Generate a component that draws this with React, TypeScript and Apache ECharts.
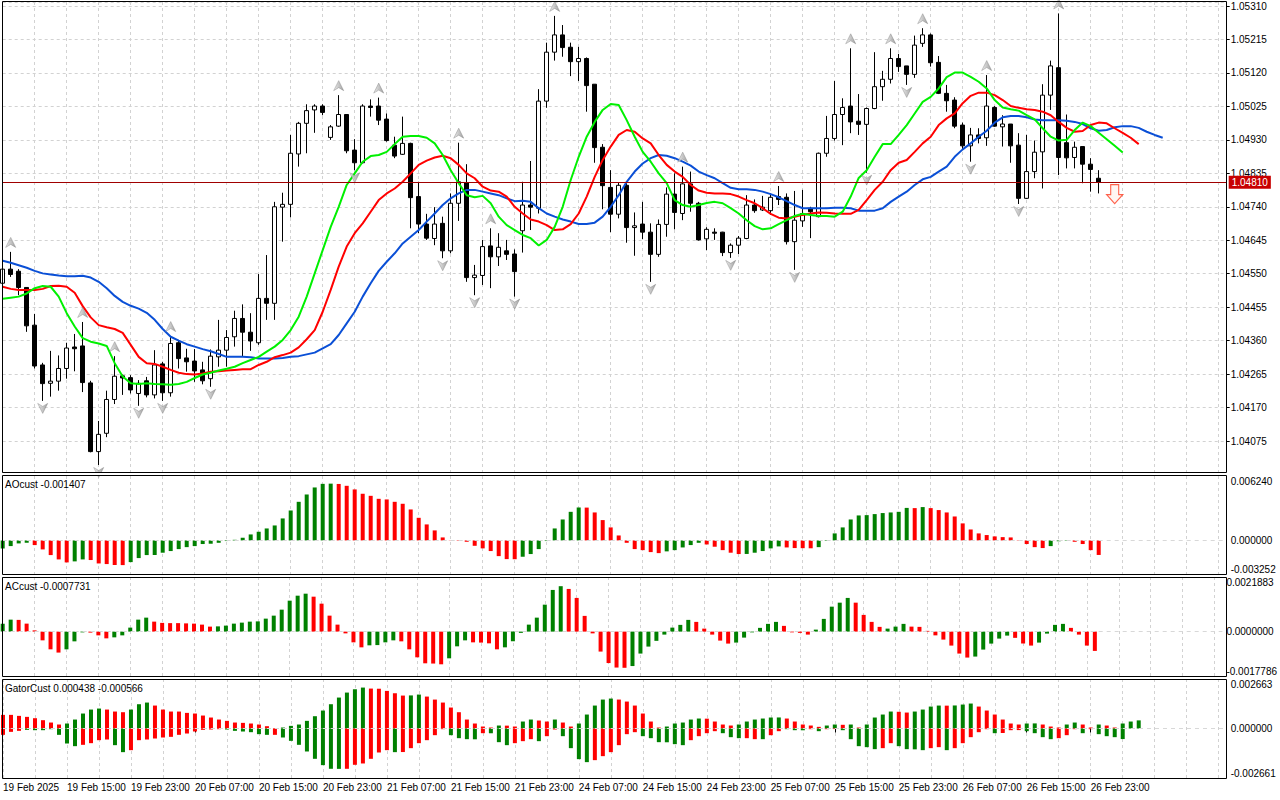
import React, { useEffect, useRef } from 'react';
import * as echarts from 'echarts';

// ------------------------------------------------------------------ data
const X_TICK_LABELS = [
  '19 Feb 2025', '19 Feb 15:00', '19 Feb 23:00', '20 Feb 07:00', '20 Feb 15:00', '20 Feb 23:00',
  '21 Feb 07:00', '21 Feb 15:00', '21 Feb 23:00', '24 Feb 07:00', '24 Feb 15:00', '24 Feb 23:00',
  '25 Feb 07:00', '25 Feb 15:00', '25 Feb 23:00', '26 Feb 07:00', '26 Feb 15:00', '26 Feb 23:00',
];
const BARS_PER_LABEL = 8;
const BARS_PER_GRIDLINE = 4;
const SLOT_COUNT = 154;

const OPEN = [
  1.04523, 1.04563, 1.04557, 1.04511, 1.04404, 1.04291, 1.04239, 1.04245, 1.04281, 1.04342,
  1.04345, 1.04240, 1.04045, 1.04097, 1.04193, 1.04260, 1.04255, 1.04210, 1.04246, 1.04206,
  1.04294, 1.04212, 1.04354, 1.04311, 1.04302, 1.04277, 1.04252, 1.04314, 1.04333, 1.04371,
  1.04423, 1.04384, 1.04354, 1.04480, 1.04466, 1.04739, 1.04747, 1.04890, 1.04977, 1.05015,
  1.05026, 1.04937, 1.04969, 1.05002, 1.04901, 1.04865, 1.05026, 1.05026, 1.04989, 1.04915,
  1.04889, 1.04920, 1.04769, 1.04691, 1.04650, 1.04693, 1.04615, 1.04750, 1.04808, 1.04539,
  1.04545, 1.04629, 1.04598, 1.04615, 1.04606, 1.04672, 1.04745, 1.04736, 1.05040, 1.05179,
  1.05228, 1.05193, 1.05152, 1.05161, 1.05088, 1.04909, 1.04795, 1.04719, 1.04801, 1.04681,
  1.04691, 1.04668, 1.04605, 1.04690, 1.04776, 1.04721, 1.04805, 1.04750, 1.04649, 1.04668,
  1.04668, 1.04610, 1.04631, 1.04650, 1.04745, 1.04731, 1.04729, 1.04769, 1.04767, 1.04641,
  1.04700, 1.04736, 1.04712, 1.04892, 1.04934, 1.05002, 1.05026, 1.04983, 1.04974, 1.05019,
  1.05081, 1.05102, 1.05161, 1.05140, 1.05116, 1.05204, 1.05228, 1.05150, 1.05062, 1.05043,
  1.04972, 1.04913, 1.04944, 1.04936, 1.05022, 1.04967, 1.04975, 1.04915, 1.04764, 1.04840,
  1.04896, 1.05057, 1.05135, 1.04922, 1.04880, 1.04911, 1.04861, 1.04821,
];
const HIGH = [
  1.04566, 1.04612, 1.04563, 1.04512, 1.04436, 1.04297, 1.04331, 1.04318, 1.04354, 1.04379,
  1.04413, 1.04246, 1.04132, 1.04218, 1.04316, 1.04264, 1.04262, 1.04248, 1.04257, 1.04333,
  1.04300, 1.04373, 1.04362, 1.04337, 1.04336, 1.04300, 1.04335, 1.04419, 1.04390, 1.04445,
  1.04463, 1.04438, 1.04549, 1.04603, 1.04754, 1.04780, 1.04944, 1.04981, 1.05031, 1.05031,
  1.05031, 1.04972, 1.05057, 1.05003, 1.04932, 1.05031, 1.05045, 1.05050, 1.05005, 1.04939,
  1.04996, 1.04922, 1.04811, 1.04720, 1.04739, 1.04712, 1.04778, 1.04922, 1.04861, 1.04575,
  1.04646, 1.04679, 1.04665, 1.04646, 1.04619, 1.04811, 1.04870, 1.05074, 1.05206, 1.05282,
  1.05256, 1.05206, 1.05194, 1.05164, 1.05088, 1.04918, 1.04844, 1.04808, 1.04808, 1.04724,
  1.04754, 1.04693, 1.04704, 1.04795, 1.04835, 1.04854, 1.04840, 1.04754, 1.04682, 1.04679,
  1.04669, 1.04636, 1.04657, 1.04773, 1.04761, 1.04771, 1.04778, 1.04799, 1.04778, 1.04785,
  1.04788, 1.04740, 1.04894, 1.04998, 1.05097, 1.05048, 1.05190, 1.05060, 1.05022, 1.05179,
  1.05126, 1.05190, 1.05174, 1.05140, 1.05226, 1.05247, 1.05232, 1.05168, 1.05086, 1.05051,
  1.04979, 1.04964, 1.04963, 1.05114, 1.05026, 1.05000, 1.04975, 1.04949, 1.04944, 1.04928,
  1.05088, 1.05155, 1.05289, 1.05002, 1.04925, 1.04911, 1.04878, 1.04844,
];
const LOW = [
  1.04518, 1.04541, 1.04489, 1.04385, 1.04281, 1.04189, 1.04201, 1.04218, 1.04252, 1.04273,
  1.04214, 1.04043, 1.04007, 1.04086, 1.04180, 1.04206, 1.04210, 1.04175, 1.04199, 1.04196,
  1.04189, 1.04201, 1.04281, 1.04272, 1.04243, 1.04236, 1.04229, 1.04286, 1.04286, 1.04343,
  1.04314, 1.04331, 1.04348, 1.04419, 1.04419, 1.04641, 1.04710, 1.04854, 1.04892, 1.04950,
  1.05000, 1.04930, 1.04967, 1.04892, 1.04844, 1.04863, 1.04996, 1.04972, 1.04925, 1.04878,
  1.04887, 1.04679, 1.04665, 1.04646, 1.04631, 1.04594, 1.04608, 1.04700, 1.04527, 1.04489,
  1.04518, 1.04509, 1.04572, 1.04589, 1.04485, 1.04610, 1.04674, 1.04721, 1.05021, 1.05155,
  1.05166, 1.05111, 1.05097, 1.05010, 1.04865, 1.04733, 1.04668, 1.04707, 1.04638, 1.04601,
  1.04648, 1.04527, 1.04598, 1.04655, 1.04676, 1.04702, 1.04726, 1.04644, 1.04617, 1.04646,
  1.04600, 1.04595, 1.04606, 1.04648, 1.04723, 1.04728, 1.04717, 1.04745, 1.04633, 1.04561,
  1.04683, 1.04651, 1.04710, 1.04882, 1.04928, 1.04915, 1.04949, 1.04944, 1.04837, 1.05017,
  1.05041, 1.05090, 1.05123, 1.05086, 1.05106, 1.05194, 1.05138, 1.05060, 1.05010, 1.04963,
  1.04901, 1.04868, 1.04920, 1.04913, 1.04967, 1.04911, 1.04865, 1.04748, 1.04762, 1.04821,
  1.04792, 1.05015, 1.04830, 1.04849, 1.04849, 1.04807, 1.04783, 1.04778,
];
const CLOSE = [
  1.04563, 1.04548, 1.04511, 1.04402, 1.04288, 1.04238, 1.04245, 1.04281, 1.04339, 1.04337,
  1.04241, 1.04045, 1.04094, 1.04193, 1.04259, 1.04254, 1.04220, 1.04239, 1.04206, 1.04291,
  1.04212, 1.04352, 1.04309, 1.04300, 1.04274, 1.04246, 1.04316, 1.04333, 1.04369, 1.04423,
  1.04384, 1.04359, 1.04480, 1.04466, 1.04740, 1.04747, 1.04892, 1.04977, 1.05013, 1.05026,
  1.05008, 1.04967, 1.05002, 1.04899, 1.04865, 1.05026, 1.05022, 1.04986, 1.04928, 1.04884,
  1.04920, 1.04766, 1.04691, 1.04651, 1.04691, 1.04615, 1.04750, 1.04811, 1.04539, 1.04546,
  1.04627, 1.04598, 1.04625, 1.04605, 1.04556, 1.04745, 1.04739, 1.05040, 1.05179, 1.05228,
  1.05192, 1.05152, 1.05161, 1.05084, 1.04908, 1.04800, 1.04719, 1.04801, 1.04681, 1.04686,
  1.04668, 1.04605, 1.04690, 1.04776, 1.04724, 1.04805, 1.04750, 1.04646, 1.04676, 1.04665,
  1.04610, 1.04631, 1.04651, 1.04745, 1.04729, 1.04739, 1.04767, 1.04761, 1.04641, 1.04702,
  1.04721, 1.04726, 1.04892, 1.04934, 1.05002, 1.05022, 1.04981, 1.04974, 1.05019, 1.05081,
  1.05102, 1.05161, 1.05138, 1.05116, 1.05199, 1.05228, 1.05149, 1.05062, 1.05041, 1.04969,
  1.04913, 1.04944, 1.04934, 1.05026, 1.04969, 1.04975, 1.04913, 1.04764, 1.04840, 1.04895,
  1.05057, 1.05140, 1.04880, 1.04879, 1.04909, 1.04861, 1.04846, 1.04810,
];

// Alligator lines (drawn shifted forward, so they run past the last bar)
const LIPS = [
  1.04479, 1.04482, 1.04485, 1.04494, 1.04509, 1.04515, 1.04513, 1.04485, 1.04438, 1.04400,
  1.04367, 1.04357, 1.04352, 1.04345, 1.04296, 1.04258, 1.04239, 1.04237, 1.04239, 1.04237,
  1.04236, 1.04235, 1.04237, 1.04243, 1.04254, 1.04264, 1.04269, 1.04275, 1.04280, 1.04286,
  1.04296, 1.04305, 1.04314, 1.04329, 1.04343, 1.04362, 1.04390, 1.04428, 1.04485, 1.04551,
  1.04617, 1.04683, 1.04740, 1.04802, 1.04835, 1.04868, 1.04884, 1.04887, 1.04896, 1.04918,
  1.04939, 1.04941, 1.04941, 1.04936, 1.04920, 1.04887, 1.04844, 1.04807, 1.04773, 1.04767,
  1.04771, 1.04750, 1.04712, 1.04688, 1.04674, 1.04660, 1.04651, 1.04630, 1.04646, 1.04683,
  1.04740, 1.04816, 1.04882, 1.04939, 1.04981, 1.05015, 1.05032, 1.05029, 1.04986, 1.04939,
  1.04896, 1.04868, 1.04835, 1.04807, 1.04759, 1.04745, 1.04740, 1.04745, 1.04751, 1.04754,
  1.04750, 1.04736, 1.04721, 1.04702, 1.04685, 1.04676, 1.04679, 1.04691, 1.04702, 1.04714,
  1.04720, 1.04717, 1.04714, 1.04714, 1.04712, 1.04726, 1.04769, 1.04822, 1.04844, 1.04882,
  1.04918, 1.04918, 1.04944, 1.04972, 1.05005, 1.05038, 1.05052, 1.05076, 1.05108, 1.05121,
  1.05121, 1.05109, 1.05095, 1.05076, 1.05043, 1.05022, 1.05017, 1.05013, 1.05000, 1.04988,
  1.04963, 1.04939, 1.04928, 1.04930, 1.04958, 1.04979, 1.04969, 1.04950, 1.04932, 1.04913,
  1.04894,
];
const TEETH = [
  1.04513, 1.04507, 1.04504, 1.04504, 1.04504, 1.04507, 1.04515, 1.04516, 1.04513, 1.04496,
  1.04458, 1.04426, 1.04404, 1.04398, 1.04393, 1.04382, 1.04348, 1.04314, 1.04296, 1.04294,
  1.04286, 1.04277, 1.04269, 1.04265, 1.04264, 1.04267, 1.04272, 1.04273, 1.04275, 1.04277,
  1.04279, 1.04279, 1.04291, 1.04300, 1.04313, 1.04319, 1.04326, 1.04341, 1.04364, 1.04390,
  1.04442, 1.04504, 1.04570, 1.04627, 1.04665, 1.04693, 1.04726, 1.04759, 1.04778, 1.04792,
  1.04811, 1.04835, 1.04859, 1.04871, 1.04880, 1.04885, 1.04878, 1.04859, 1.04835, 1.04821,
  1.04797, 1.04786, 1.04783, 1.04769, 1.04740, 1.04721, 1.04704, 1.04698, 1.04688, 1.04674,
  1.04676, 1.04691, 1.04721, 1.04769, 1.04825, 1.04873, 1.04911, 1.04944, 1.04958, 1.04953,
  1.04934, 1.04920, 1.04887, 1.04859, 1.04840, 1.04825, 1.04802, 1.04786, 1.04780, 1.04778,
  1.04778, 1.04776, 1.04769, 1.04759, 1.04750, 1.04736, 1.04720, 1.04709, 1.04707, 1.04712,
  1.04717, 1.04721, 1.04724, 1.04723, 1.04721, 1.04720, 1.04720, 1.04731, 1.04759, 1.04788,
  1.04811, 1.04844, 1.04865, 1.04873, 1.04896, 1.04920, 1.04939, 1.04972, 1.04991, 1.05005,
  1.05034, 1.05055, 1.05064, 1.05064, 1.05057, 1.05043, 1.05026, 1.05021, 1.05017, 1.05015,
  1.05010, 1.05000, 1.04981, 1.04964, 1.04953, 1.04955, 1.04972, 1.04979, 1.04977, 1.04963,
  1.04950, 1.04936, 1.04918,
];
const JAW = [
  1.04587, 1.04581, 1.04574, 1.04567, 1.04558, 1.04551, 1.04548, 1.04545, 1.04543, 1.04543,
  1.04544, 1.04539, 1.04527, 1.04509, 1.04487, 1.04470, 1.04459, 1.04451, 1.04439, 1.04419,
  1.04393, 1.04371, 1.04360, 1.04350, 1.04343, 1.04336, 1.04330, 1.04322, 1.04314, 1.04314,
  1.04314, 1.04313, 1.04309, 1.04309, 1.04309, 1.04311, 1.04314, 1.04316, 1.04321, 1.04326,
  1.04338, 1.04350, 1.04376, 1.04409, 1.04442, 1.04485, 1.04523, 1.04558, 1.04584, 1.04608,
  1.04636, 1.04655, 1.04674, 1.04698, 1.04721, 1.04745, 1.04764, 1.04778, 1.04788, 1.04788,
  1.04783, 1.04778, 1.04773, 1.04764, 1.04756, 1.04757, 1.04754, 1.04736, 1.04721, 1.04712,
  1.04704, 1.04698, 1.04691, 1.04691, 1.04695, 1.04712, 1.04740, 1.04773, 1.04811, 1.04840,
  1.04863, 1.04878, 1.04887, 1.04885, 1.04878, 1.04868, 1.04857, 1.04840, 1.04830, 1.04821,
  1.04807, 1.04794, 1.04790, 1.04790, 1.04788, 1.04783, 1.04776, 1.04767, 1.04756, 1.04745,
  1.04736, 1.04736, 1.04736, 1.04736, 1.04737, 1.04737, 1.04736, 1.04729, 1.04729, 1.04729,
  1.04736, 1.04754, 1.04769, 1.04783, 1.04802, 1.04818, 1.04825, 1.04840, 1.04854, 1.04882,
  1.04903, 1.04920, 1.04939, 1.04956, 1.04979, 1.04994, 1.04998, 1.04998, 1.04994, 1.04988,
  1.04986, 1.04986, 1.04986, 1.04984, 1.04981, 1.04975, 1.04963, 1.04956, 1.04958, 1.04966,
  1.04969, 1.04969, 1.04964, 1.04953, 1.04944, 1.04936,
];

const FRACTAL_UP_BARS = [1, 10, 14, 21, 42, 47, 57, 61, 69, 85, 97, 106, 111, 115, 123, 132];
const FRACTAL_DOWN_BARS = [5, 12, 17, 20, 26, 44, 55, 59, 64, 81, 91, 99, 108, 113, 121, 127];
const SELL_SIGNAL_BAR = 139;
const SELL_SIGNAL_PRICE = 1.04776;

const AO = [
  -0.000774, -0.000548, -0.000290, -0.000226, -0.000452, -0.000871, -0.001420, -0.001840, -0.002130, -0.002030,
  -0.001840, -0.001900, -0.002230, -0.002290, -0.002380, -0.002390, -0.002100, -0.001710, -0.001420, -0.001410,
  -0.001190, -0.001030, -0.000840, -0.000650, -0.000550, -0.000350, -0.000320, -0.000230, -0.000060, 0.000060,
  0.000260, 0.000580, 0.000840, 0.001160, 0.001450, 0.002130, 0.002900, 0.003740, 0.004450, 0.005130,
  0.005480, 0.005500, 0.005470, 0.005290, 0.004940, 0.004520, 0.004320, 0.004030, 0.003970, 0.003740,
  0.003550, 0.003000, 0.002190, 0.001550, 0.000970, 0.000290, -0.000020, -0.000040, -0.000130, -0.000520,
  -0.000770, -0.001030, -0.001520, -0.001810, -0.001820, -0.001580, -0.001320, -0.000840, -0.000060, 0.001160,
  0.002030, 0.002770, 0.003190, 0.003180, 0.002710, 0.001970, 0.001260, 0.000480, -0.000230, -0.000840,
  -0.000940, -0.001130, -0.001230, -0.001060, -0.000940, -0.000680, -0.000450, -0.000230, -0.000390, -0.000610,
  -0.000940, -0.001190, -0.001320, -0.001310, -0.001190, -0.001030, -0.000770, -0.000580, -0.000680, -0.000740,
  -0.000750, -0.000760, -0.000650, -0.000050, 0.000680, 0.001260, 0.002030, 0.002420, 0.002450, 0.002550,
  0.002650, 0.002710, 0.002770, 0.003150, 0.003130, 0.003230, 0.003130, 0.002940, 0.002710, 0.002320,
  0.001650, 0.001060, 0.000680, 0.000520, 0.000390, 0.000320, 0.000290, -0.000030, -0.000350, -0.000650,
  -0.000740, -0.000550, -0.000080, -0.000040, -0.000130, -0.000350, -0.000940, -0.001407,
];
const AO_COLORS = 'gggg rrrrr gg rrrrr ggggg ggggg ggggg ggggg ggggg g rrrrr rrrrr rrrrr rrrrr rrr ggggg ggg rrrrr rrrrr ggggg rrrrr ggggg rrrr ggggg ggggg gg r g rrrrr rrrrr rrrrr ggg rrrr';

const AC = [
  0.00032, 0.00048, 0.00047, 0.00032, 0.00005, -0.00035, -0.00071, -0.00084, -0.00071, -0.00039,
  -0.00003, -0.00004, -0.00015, -0.00027, -0.00023, -0.00015, 0.00016, 0.00048, 0.00056, 0.00040,
  0.00035, 0.00034, 0.00034, 0.00033, 0.00032, 0.00028, 0.00020, 0.00021, 0.00024, 0.00032,
  0.00036, 0.00040, 0.00041, 0.00052, 0.00064, 0.00088, 0.00124, 0.00144, 0.00152, 0.00140,
  0.00112, 0.00064, 0.00028, -0.00007, -0.00043, -0.00063, -0.00055, -0.00054, -0.00043, -0.00035,
  -0.00039, -0.00071, -0.00103, -0.00127, -0.00128, -0.00131, -0.00107, -0.00059, -0.00035, -0.00043,
  -0.00044, -0.00047, -0.00071, -0.00063, -0.00039, -0.00005, 0.00028, 0.00056, 0.00108, 0.00167,
  0.00182, 0.00171, 0.00135, 0.00063, -0.00007, -0.00080, -0.00126, -0.00144, -0.00145, -0.00138,
  -0.00088, -0.00060, -0.00037, -0.00012, 0.00016, 0.00027, 0.00047, 0.00039, 0.00012, -0.00012,
  -0.00036, -0.00048, -0.00044, -0.00024, -0.00003, 0.00015, 0.00031, 0.00039, 0.00023, -0.00003,
  -0.00005, -0.00012, 0.00008, 0.00051, 0.00100, 0.00116, 0.00135, 0.00116, 0.00067, 0.00039,
  0.00019, 0.00012, 0.00020, 0.00031, 0.00020, 0.00019, 0.00003, -0.00015, -0.00032, -0.00056,
  -0.00088, -0.00104, -0.00100, -0.00072, -0.00048, -0.00028, -0.00016, -0.00025, -0.00048, -0.00056,
  -0.00044, -0.00008, 0.00027, 0.00031, 0.00015, -0.00012, -0.00056, -0.0007731,
];
const AC_COLORS = 'gg rrrrrr ggg rrr ggggg rrrrr rrr ggggg ggggg gg rrrrr rr gggg rrrrr r ggg rrrr ggggg ggg rrrrr rrr ggggg ggg rrrrr gggggg rrrr ggggg rrrr ggg rrrrr rrr ggggg rrr gggg rrrr';

const GATOR_UP = [
  0.000734, 0.000734, 0.000680, 0.000627, 0.000555, 0.000448, 0.000322, 0.000215, 0.000269, 0.000483,
  0.000806, 0.001020, 0.001074, 0.001020, 0.000913, 0.000877, 0.001020, 0.001307, 0.001396, 0.001235,
  0.001020, 0.000913, 0.000913, 0.000841, 0.000806, 0.000698, 0.000591, 0.000483, 0.000412, 0.000322,
  0.000304, 0.000269, 0.000215, 0.000125, 0.000018, 0.000054, 0.000143, 0.000215, 0.000412, 0.000662,
  0.000967, 0.001307, 0.001665, 0.001933, 0.002112, 0.002202, 0.002148, 0.002140, 0.002023, 0.001897,
  0.001772, 0.001780, 0.001826, 0.001718, 0.001557, 0.001396, 0.001128, 0.000877, 0.000483, 0.000269,
  0.000107, 0.000054, 0.000161, 0.000155, 0.000107, 0.000376, 0.000483, 0.000430, 0.000376, 0.000483,
  0.000322, 0.000107, 0.000269, 0.000752, 0.001235, 0.001557, 0.001611, 0.001557, 0.001450, 0.001235,
  0.000806, 0.000376, 0.000054, 0.000107, 0.000269, 0.000322, 0.000483, 0.000537, 0.000530, 0.000376,
  0.000215, 0.000161, 0.000215, 0.000376, 0.000483, 0.000537, 0.000591, 0.000595, 0.000537, 0.000376,
  0.000215, 0.000161, 0.000090, 0.000161, 0.000215, 0.000200, 0.000215, 0.000054, 0.000215, 0.000591,
  0.000752, 0.000913, 0.000900, 0.000859, 0.000913, 0.001020, 0.001181, 0.001235, 0.001230, 0.001240,
  0.001289, 0.001343, 0.001181, 0.000967, 0.000752, 0.000483, 0.000269, 0.000215, 0.000269, 0.000275,
  0.000215, 0.000107, 0.000054, 0.000215, 0.000322, 0.000215, 0.000054, 0.000215, 0.000161, 0.000054,
  0.000269, 0.000376, 0.000438,
];
const GATOR_UP_COLORS = 'rrrrr rrr ggggg rrr ggg rrrrr rrrrr rrrrr r ggggg ggggg g rrrrr gg rrrrr rrrr g rr gg rr g rr ggggg rrrrr r ggggg rrrr ggggg g rrrrr gg r g r gggg rr gggg r ggg rrrrr r gg rrr gg rr g rr ggg';

const GATOR_DOWN = [
  -0.000340, -0.000179, -0.000125, -0.000072, -0.000090, -0.000090, -0.000036, -0.000340, -0.000806, -0.000949,
  -0.000877, -0.000788, -0.000627, -0.000591, -0.000895, -0.001271, -0.001164, -0.000627, -0.000591, -0.000537,
  -0.000483, -0.000448, -0.000340, -0.000269, -0.000161, -0.000072, -0.000054, -0.000036, -0.000054, -0.000125,
  -0.000161, -0.000197, -0.000304, -0.000340, -0.000340, -0.000483, -0.000662, -0.000877, -0.001235, -0.001629,
  -0.001969, -0.002166, -0.002170, -0.002166, -0.001951, -0.001880, -0.001629, -0.001289, -0.001164, -0.001271,
  -0.001265, -0.001056, -0.000788, -0.000627, -0.000358, -0.000036, -0.000358, -0.000519, -0.000573, -0.000580,
  -0.000251, -0.000255, -0.000734, -0.000895, -0.000788, -0.000680, -0.000573, -0.000680, -0.000412, -0.000054,
  -0.000412, -0.001056, -0.001647, -0.001808, -0.001701, -0.001486, -0.001271, -0.000895, -0.000304, -0.000197,
  -0.000412, -0.000519, -0.000734, -0.000740, -0.000841, -0.000895, -0.000627, -0.000412, -0.000251, -0.000143,
  -0.000251, -0.000465, -0.000519, -0.000519, -0.000573, -0.000573, -0.000358, -0.000143, -0.000036, -0.000090,
  -0.000095, -0.000036, -0.000143, -0.000036, -0.000030, -0.000090, -0.000573, -0.000949, -0.001002, -0.001110,
  -0.001056, -0.000788, -0.000949, -0.001110, -0.001120, -0.001164, -0.001056, -0.001002, -0.001164, -0.001056,
  -0.000788, -0.000465, -0.000197, -0.000036, -0.000251, -0.000240, -0.000090, -0.000085, -0.000143, -0.000251,
  -0.000465, -0.000573, -0.000519, -0.000358, -0.000036, -0.000251, -0.000036, -0.000304, -0.000412, -0.000465,
  -0.000566,
];
const GATOR_DOWN_COLORS = 'rrr ggggg gg rrrr gg rrrrr rrrrr rr gggggg r ggggg ggg rrrrr r g rrrrr r gggg r ggg rrr g rr gggg rrrrr r ggggg g rrrr ggg rr g rr ggg r g rr ggggg rr gggg rr g rrrrr g rrr gggg rrr g r gggg';

// axis ranges and tick steps
const PRICE_MIN = 1.0398;
const PRICE_MAX = 1.053214;
const PRICE_STEP = 0.00095;
const AO_RANGE = [-0.003252, 0.00624];
const AC_RANGE = [-0.0017786, 0.0021883];
const GATOR_RANGE = [-0.002661, 0.002663];

// ------------------------------------------------------------------ styling
const FONT = '"Liberation Sans", Arial, sans-serif';
const UP_GREEN = '#008000';
const DOWN_RED = '#ff0000';
const GRID_LEFT = 2.7;
const GRID_WIDTH = 1224;
const GRID_LINE = { color: '#d2d2d2', type: [3, 3] as number[], width: 1 };

const SLOTS = Array.from({ length: SLOT_COUNT }, (_, i) => String(i));

function colorize(values: number[], codes: string) {
  const c = codes.replace(/\s+/g, '');
  return values.map((v, i) => ({ value: v, itemStyle: { color: c[i] === 'g' ? UP_GREEN : DOWN_RED } }));
}

function xAxisFor(gridIndex: number, withLabels: boolean) {
  const isLabel = (index: number) =>
    index % BARS_PER_LABEL === 0 && index / BARS_PER_LABEL < X_TICK_LABELS.length;
  return {
    type: 'category',
    gridIndex,
    data: SLOTS,
    boundaryGap: false,
    axisLine: { show: false },
    axisTick: {
      show: withLabels,
      interval: (index: number) => isLabel(index),
      length: 4,
      lineStyle: { color: '#000' },
    },
    axisLabel: {
      show: withLabels,
      interval: (index: number) => isLabel(index),
      formatter: (_v: string, index: number) =>
        isLabel(index) ? X_TICK_LABELS[index / BARS_PER_LABEL] : '',
      align: 'left',
      margin: 4,
      color: '#000',
      fontSize: 10,
      fontFamily: FONT,
    },
    splitLine: {
      show: true,
      interval: (index: number) => index % BARS_PER_GRIDLINE === 0,
      lineStyle: GRID_LINE,
    },
  };
}

function panelYAxis(gridIndex: number, range: number[], digits: number) {
  const [min, max] = range;
  const eps = 1e-10;
  const textStyle = { color: '#000', fontSize: 10, fontFamily: FONT };
  return {
    type: 'value',
    gridIndex,
    position: 'right',
    min,
    max,
    interval: -min,
    axisLine: { show: false },
    axisTick: { show: false },
    splitLine: { show: false },
    axisLabel: {
      show: true,
      showMinLabel: true,
      showMaxLabel: true,
      margin: 4,
      ...textStyle,
      formatter: (v: number) => {
        if (Math.abs(v - max) < eps) return `{top|${max.toFixed(digits)}}`;
        if (Math.abs(v - min) < eps) return `{bot|${min.toFixed(digits)}}`;
        if (Math.abs(v) < eps) return (0).toFixed(digits);
        return '';
      },
      rich: {
        top: { ...textStyle, padding: [11, 0, 0, 0] },
        bot: { ...textStyle, padding: [0, 0, 9, 0] },
      },
    },
  };
}

const zeroLine = {
  silent: true,
  symbol: ['none', 'none'],
  label: { show: false },
  lineStyle: { color: '#d8d8d8', type: [4, 4] as number[], width: 1 },
  data: [{ yAxis: 0 }],
};

function buildOption() {
  const lastIndex = CLOSE.length - 1;
  const lastClose = CLOSE[lastIndex];
  const fractalFill = new echarts.graphic.LinearGradient(0, 0, 1, 0, [
    { offset: 0, color: '#e8e8e8' },
    { offset: 1, color: '#8a8a8a' },
  ]);

  const frame = (y: number, h: number) => ({
    type: 'rect',
    z: 101,
    silent: true,
    shape: { x: 2.5, y, width: 1224, height: h },
    style: { fill: 'none', stroke: '#000', lineWidth: 1 },
  });
  const caption = (y: number, text: string) => ({
    type: 'text',
    z: 102,
    silent: true,
    x: 5,
    y,
    style: { text, fill: '#000', font: `10px ${FONT}`, verticalAlign: 'middle' },
  });

  return {
    animation: false,
    backgroundColor: '#ffffff',
    textStyle: { fontFamily: FONT },
    grid: [
      { left: GRID_LEFT, width: GRID_WIDTH, top: 2, height: 472.5 },
      { left: GRID_LEFT, width: GRID_WIDTH, top: 476, height: 98 },
      { left: GRID_LEFT, width: GRID_WIDTH, top: 577, height: 99 },
      { left: GRID_LEFT, width: GRID_WIDTH, top: 679, height: 99 },
    ],
    xAxis: [xAxisFor(0, false), xAxisFor(1, false), xAxisFor(2, false), xAxisFor(3, true)],
    yAxis: [
      {
        type: 'value',
        gridIndex: 0,
        position: 'right',
        min: PRICE_MIN,
        max: PRICE_MAX,
        interval: PRICE_STEP,
        axisLine: { show: false },
        axisTick: { show: true, length: 3, lineStyle: { color: '#000' } },
        axisLabel: {
          color: '#000',
          fontSize: 10,
          fontFamily: FONT,
          margin: 4,
          showMinLabel: false,
          showMaxLabel: false,
          formatter: (v: number) => v.toFixed(5),
        },
        splitLine: { show: true, lineStyle: GRID_LINE },
      },
      panelYAxis(1, AO_RANGE, 6),
      panelYAxis(2, AC_RANGE, 7),
      panelYAxis(3, GATOR_RANGE, 6),
    ],
    series: [
      {
        name: 'Last price',
        type: 'line',
        xAxisIndex: 0,
        yAxisIndex: 0,
        z: 1,
        data: [[lastIndex, lastClose]],
        showSymbol: false,
        lineStyle: { width: 0 },
        markLine: {
          silent: true,
          precision: 5,
          symbol: ['none', 'none'],
          lineStyle: { color: '#a00000', width: 1, type: 'solid' },
          label: {
            show: true,
            position: 'end',
            distance: 2,
            formatter: lastClose.toFixed(5),
            color: '#ffffff',
            backgroundColor: '#c80000',
            padding: [2, 3, 1, 3],
            fontSize: 10,
            fontFamily: FONT,
          },
          data: [{ yAxis: lastClose }],
        },
      },
      {
        name: 'Price',
        type: 'candlestick',
        xAxisIndex: 0,
        yAxisIndex: 0,
        z: 2,
        barWidth: 4,
        data: OPEN.map((o, i) => [o, CLOSE[i], LOW[i], HIGH[i]]),
        itemStyle: {
          color: '#ffffff',
          color0: '#000000',
          borderColor: '#000000',
          borderColor0: '#000000',
          borderWidth: 1,
        },
      },
      {
        name: 'Jaw', type: 'line', xAxisIndex: 0, yAxisIndex: 0, z: 3, data: JAW,
        showSymbol: false, lineStyle: { color: '#0a4fd6', width: 2 },
      },
      {
        name: 'Teeth', type: 'line', xAxisIndex: 0, yAxisIndex: 0, z: 3, data: TEETH,
        showSymbol: false, lineStyle: { color: '#ff0000', width: 2 },
      },
      {
        name: 'Lips', type: 'line', xAxisIndex: 0, yAxisIndex: 0, z: 3, data: LIPS,
        showSymbol: false, lineStyle: { color: '#00f000', width: 2 },
      },
      {
        name: 'Fractal up', type: 'scatter', xAxisIndex: 0, yAxisIndex: 0, z: 4,
        data: FRACTAL_UP_BARS.map((i) => [i, HIGH[i]]),
        symbol: 'path://M5,0 L10,10 L5,7 L0,10 Z',
        symbolSize: [10, 10],
        symbolOffset: [0, -9.5],
        itemStyle: { color: fractalFill, borderColor: '#7d7d7d', borderWidth: 0.5 },
      },
      {
        name: 'Fractal down', type: 'scatter', xAxisIndex: 0, yAxisIndex: 0, z: 4,
        data: FRACTAL_DOWN_BARS.map((i) => [i, LOW[i]]),
        symbol: 'path://M5,10 L10,0 L5,3 L0,0 Z',
        symbolSize: [10, 10],
        symbolOffset: [0, 7.5],
        itemStyle: { color: fractalFill, borderColor: '#7d7d7d', borderWidth: 0.5 },
      },
      {
        name: 'Sell', type: 'scatter', xAxisIndex: 0, yAxisIndex: 0, z: 4,
        data: [[SELL_SIGNAL_BAR, SELL_SIGNAL_PRICE]],
        symbol: 'path://M4,0 L12,0 L12,10 L16,10 L8,19 L0,10 L4,10 Z',
        symbolSize: [16, 19],
        itemStyle: { color: '#fff4f0', borderColor: '#ff3b1f', borderWidth: 1.2 },
      },
      {
        name: 'AO', type: 'bar', xAxisIndex: 1, yAxisIndex: 1, barWidth: 4,
        data: colorize(AO, AO_COLORS), markLine: zeroLine,
      },
      {
        name: 'AC', type: 'bar', xAxisIndex: 2, yAxisIndex: 2, barWidth: 4,
        data: colorize(AC, AC_COLORS), markLine: zeroLine,
      },
      {
        name: 'Gator up', type: 'bar', xAxisIndex: 3, yAxisIndex: 3, barWidth: 4, barGap: '-100%',
        data: colorize(GATOR_UP, GATOR_UP_COLORS),
      },
      {
        name: 'Gator down', type: 'bar', xAxisIndex: 3, yAxisIndex: 3, barWidth: 4, barGap: '-100%',
        data: colorize(GATOR_DOWN, GATOR_DOWN_COLORS), markLine: zeroLine,
      },
    ],
    graphic: [
      {
        type: 'rect', z: 100, silent: true,
        shape: { x: 0, y: 473, width: 1280, height: 2.2 },
        style: { fill: '#ffffff' },
      },
      frame(1.5, 471),
      frame(475.5, 99),
      frame(577.5, 99),
      frame(679.5, 99),
      caption(484.5, `AOcust ${AO[AO.length - 1].toFixed(6)}`),
      caption(586.5, `ACcust ${AC[AC.length - 1].toFixed(7)}`),
      caption(
        688.5,
        `GatorCust ${GATOR_UP[GATOR_UP.length - 1].toFixed(6)} ${GATOR_DOWN[GATOR_DOWN.length - 1].toFixed(6)}`,
      ),
    ],
  };
}

export default function App() {
  const ref = useRef<HTMLDivElement>(null);
  useEffect(() => {
    if (!ref.current) return;
    const chart = echarts.init(ref.current, undefined, { renderer: 'svg' });
    chart.setOption(buildOption() as any);
    return () => chart.dispose();
  }, []);
  return (
    <div
      ref={ref}
      style={{ position: 'fixed', left: 0, top: 0, width: 1280, height: 800, background: '#ffffff' }}
    />
  );
}
